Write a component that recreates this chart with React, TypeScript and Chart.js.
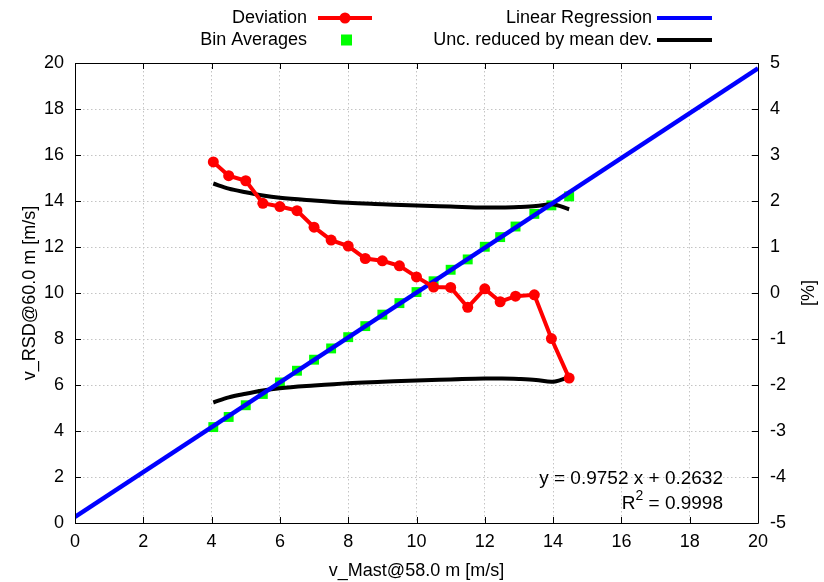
import React, { useEffect, useRef } from "react";
import { Chart, registerables } from "chart.js";

Chart.register(...registerables);

const devX = [4.05, 4.5, 5.0, 5.5, 6.0, 6.5, 7.0, 7.5, 8.0, 8.5, 9.0, 9.5, 10.0, 10.5, 11.0, 11.5, 12.0, 12.45, 12.9, 13.45, 13.95, 14.47];
const devPct = [2.85, 2.55, 2.44, 1.95, 1.88, 1.79, 1.43, 1.15, 1.02, 0.75, 0.7, 0.59, 0.35, 0.13, 0.12, -0.31, 0.09, -0.19, -0.07, -0.04, -0.99, -1.85];
const binY = [4.17, 4.61, 5.12, 5.61, 6.11, 6.62, 7.1, 7.59, 8.08, 8.56, 9.06, 9.56, 10.04, 10.51, 11.01, 11.46, 12.01, 12.43, 12.89, 13.44, 13.81, 14.2];
const regX = [0, 20];
const regY = [0.2632, 19.7672];
const uncX = [4.05, 4.5, 5.0, 5.5, 6.0, 7.0, 8.0, 9.0, 10.0, 11.0, 12.0, 12.5, 13.0, 13.5, 13.95, 14.47];
const uncUpper = [2.38, 2.27, 2.19, 2.12, 2.07, 2.01, 1.96, 1.93, 1.9, 1.88, 1.86, 1.86, 1.87, 1.89, 1.93, 1.82];
const uncLower = [-2.38, -2.27, -2.19, -2.12, -2.07, -2.01, -1.96, -1.93, -1.9, -1.88, -1.86, -1.86, -1.87, -1.89, -1.93, -1.83];

const legendLabels = ["Deviation", "Bin Averages", "Linear Regression", "Unc. reduced by mean dev."];
const equationLine1 = "y = 0.9752 x + 0.2632";
const equationR = ["R", "2", " = 0.9998"];
const xTitle = "v_Mast@58.0 m [m/s]";
const yTitle = "v_RSD@60.0 m [m/s]";
const y2Title = "[%]";

const FONT = "'Liberation Sans', Arial, Helvetica, sans-serif";
const FS = 18;

const pts = (xs: number[], ys: number[]) => xs.map((x, i) => ({ x, y: ys[i] }));

const framePlugin = {
  id: "frame",
  afterDatasetsDraw(chart: any) {
    const { ctx, chartArea: a, scales } = chart;
    ctx.save();
    ctx.strokeStyle = "#000";
    ctx.lineWidth = 1;
    ctx.beginPath();
    ctx.rect(Math.round(a.left) + 0.5, Math.round(a.top) + 0.5, Math.round(a.right - a.left), Math.round(a.bottom - a.top));
    ctx.stroke();
    const tl = 6;
    ctx.beginPath();
    scales.x.ticks.forEach((t: any) => {
      const px = Math.round(scales.x.getPixelForValue(t.value)) + 0.5;
      ctx.moveTo(px, a.bottom);
      ctx.lineTo(px, a.bottom - tl);
      ctx.moveTo(px, a.top);
      ctx.lineTo(px, a.top + tl);
    });
    scales.y.ticks.forEach((t: any) => {
      const py = Math.round(scales.y.getPixelForValue(t.value)) + 0.5;
      ctx.moveTo(a.left, py);
      ctx.lineTo(a.left + tl, py);
    });
    scales.y2.ticks.forEach((t: any) => {
      const py = Math.round(scales.y2.getPixelForValue(t.value)) + 0.5;
      ctx.moveTo(a.right, py);
      ctx.lineTo(a.right - tl, py);
    });
    ctx.stroke();
    ctx.restore();
  },
  afterDraw(chart: any) {
    const { ctx, chartArea: a } = chart;
    ctx.save();
    ctx.font = `${FS}px ${FONT}`;
    ctx.fillStyle = "#000";
    ctx.textAlign = "right";
    ctx.textBaseline = "middle";
    // legend
    const rows = [18, 40];
    ctx.fillText(legendLabels[0], 307, rows[0]);
    ctx.fillText(legendLabels[1], 307, rows[1]);
    ctx.fillText(legendLabels[2], 652, rows[0]);
    ctx.fillText(legendLabels[3], 652, rows[1]);
    ctx.lineCap = "butt";
    ctx.strokeStyle = "#ff0000";
    ctx.lineWidth = 4;
    ctx.beginPath();
    ctx.moveTo(318, rows[0]);
    ctx.lineTo(372, rows[0]);
    ctx.stroke();
    ctx.fillStyle = "#ff0000";
    ctx.beginPath();
    ctx.arc(345, rows[0], 5.5, 0, Math.PI * 2);
    ctx.fill();
    ctx.fillStyle = "#00ff00";
    ctx.fillRect(341, rows[1] - 5.5, 11, 11);
    ctx.strokeStyle = "#0000ff";
    ctx.beginPath();
    ctx.moveTo(657, rows[0]);
    ctx.lineTo(712, rows[0]);
    ctx.stroke();
    ctx.strokeStyle = "#000";
    ctx.beginPath();
    ctx.moveTo(657, rows[1]);
    ctx.lineTo(712, rows[1]);
    ctx.stroke();
    // equation
    const EF = 19;
    ctx.fillStyle = "#000";
    ctx.font = `${EF}px ${FONT}`;
    ctx.textAlign = "left";
    const w1 = ctx.measureText(equationLine1).width;
    ctx.fillText(equationLine1, 723 - w1, 479);
    const wR = ctx.measureText(equationR[0]).width;
    const wRest = ctx.measureText(equationR[2]).width;
    ctx.font = `${Math.round(EF * 0.75)}px ${FONT}`;
    const w2 = ctx.measureText(equationR[1]).width;
    const x0 = 723 - wRest - w2 - wR;
    ctx.font = `${EF}px ${FONT}`;
    ctx.fillText(equationR[0], x0, 504);
    ctx.fillText(equationR[2], x0 + wR + w2, 504);
    ctx.font = `${Math.round(EF * 0.75)}px ${FONT}`;
    ctx.fillText(equationR[1], x0 + wR, 496);
    // right title, rotated bottom-to-top
    ctx.font = `${FS}px ${FONT}`;
    ctx.textAlign = "center";
    ctx.translate(809, (a.top + a.bottom) / 2);
    ctx.rotate(-Math.PI / 2);
    ctx.fillText(y2Title, 0, 0);
    ctx.restore();
  },
};

export default function App() {
  const ref = useRef<HTMLCanvasElement>(null);
  useEffect(() => {
    if (!ref.current) return;
    const tickFont = { family: FONT, size: FS };
    const grid = {
      color: "#c4c4c4",
      lineWidth: 1,
      drawTicks: false,
    };
    const chart = new Chart(ref.current, {
      type: "line",
      data: {
        datasets: [
          {
            label: legendLabels[0],
            data: pts(devX, devPct),
            yAxisID: "y2",
            borderColor: "#ff0000",
            backgroundColor: "#ff0000",
            borderWidth: 4,
            pointRadius: 5.5,
            pointStyle: "circle",
            pointBorderWidth: 0,
            order: 0,
          },
          {
            label: legendLabels[1],
            data: pts(devX, binY),
            yAxisID: "y",
            showLine: false,
            borderColor: "#00ff00",
            backgroundColor: "#00ff00",
            pointStyle: "rect",
            pointRadius: 7,
            pointBorderWidth: 0,
            order: 3,
          },
          {
            label: legendLabels[2],
            data: pts(regX, regY),
            yAxisID: "y",
            borderColor: "#0000ff",
            borderWidth: 4.5,
            pointRadius: 0,
            order: 1,
          },
          {
            label: legendLabels[3] + " upper",
            data: pts(uncX, uncUpper),
            yAxisID: "y2",
            borderColor: "#000",
            borderWidth: 4,
            pointRadius: 0,
            cubicInterpolationMode: "monotone",
            order: 2,
          },
          {
            label: legendLabels[3] + " lower",
            data: pts(uncX, uncLower),
            yAxisID: "y2",
            borderColor: "#000",
            borderWidth: 4,
            pointRadius: 0,
            cubicInterpolationMode: "monotone",
            order: 2,
          },
        ],
      },
      options: {
        responsive: false,
        animation: false,
        layout: { padding: { top: 63, left: 0, right: 0, bottom: 0 } },
        plugins: { legend: { display: false }, tooltip: { enabled: false } },
        scales: {
          x: {
            type: "linear",
            min: 0,
            max: 20,
            ticks: { stepSize: 2, font: tickFont, color: "#000", padding: 8 },
            grid: { ...grid } as any,
            border: { display: false, dash: [1.5, 2.5] } as any,
            title: { display: true, text: xTitle, font: tickFont, color: "#000", padding: { top: 0, bottom: 0 } },
            afterFit: (s: any) => { s.height = 59; },
          },
          y: {
            type: "linear",
            position: "left",
            min: 0,
            max: 20,
            ticks: { stepSize: 2, font: tickFont, color: "#000", padding: 11 },
            grid: { ...grid } as any,
            border: { display: false, dash: [1.5, 2.5] } as any,
            title: { display: true, text: yTitle, font: tickFont, color: "#000", padding: { top: 19, bottom: 0 } },
            afterFit: (s: any) => { s.width = 75; },
          },
          y2: {
            type: "linear",
            position: "right",
            min: -5,
            max: 5,
            ticks: { stepSize: 1, font: tickFont, color: "#000", padding: 12 },
            grid: { display: false, drawTicks: false },
            border: { display: false },
            title: { display: false },
            afterFit: (s: any) => { s.width = 66; },
          },
        },
      },
      plugins: [framePlugin],
    } as any);
    return () => chart.destroy();
  }, []);
  return (
    <div style={{ position: "fixed", left: 0, top: 0, width: 824, height: 582, background: "#fff" }}>
      <canvas ref={ref} width={824} height={582} />
    </div>
  );
}
